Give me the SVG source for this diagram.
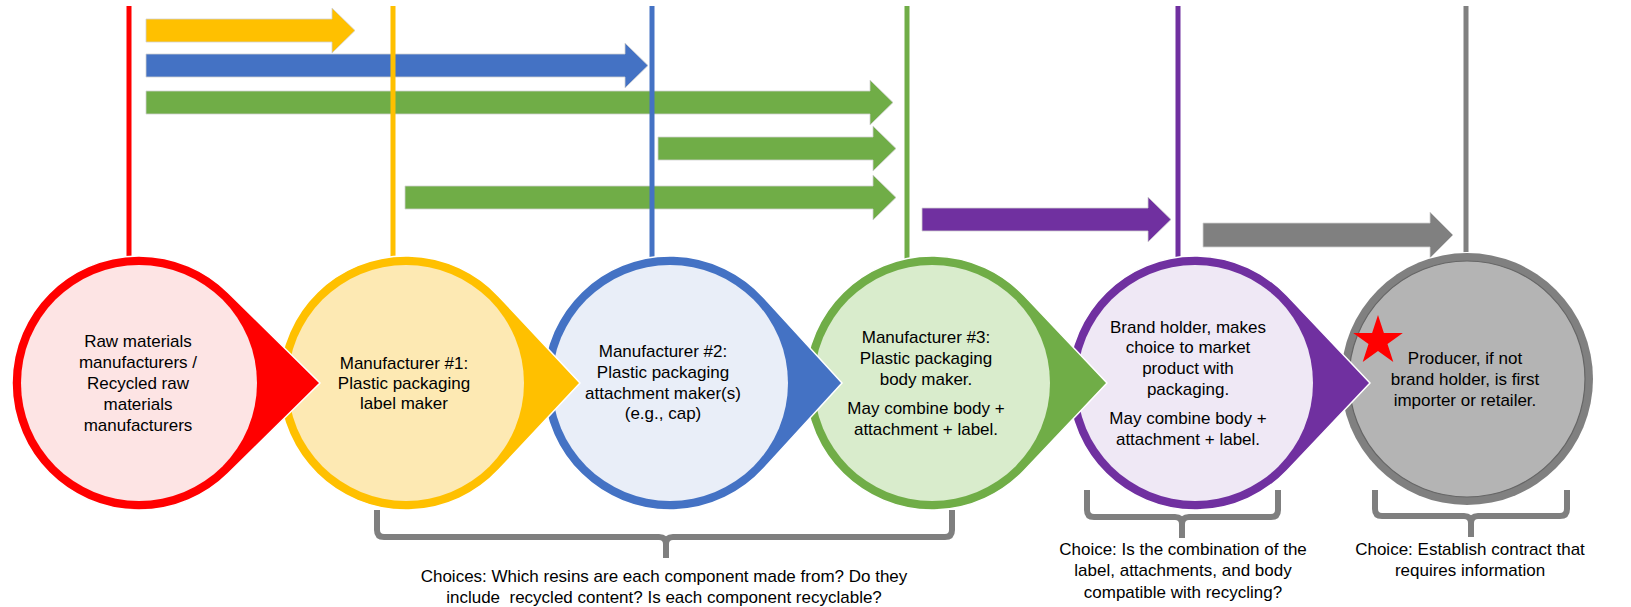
<svg xmlns="http://www.w3.org/2000/svg" width="1631" height="607" viewBox="0 0 1631 607">
<style>
  text { font-family: "Liberation Sans", Arial, sans-serif; font-size: 17px; fill: #000; text-anchor: middle; }
  .vline { stroke-width: 5; fill: none; }
  .brk { stroke: #7f7f7f; stroke-width: 6; fill: none; stroke-linejoin: round; }
  .outer { stroke: #ffffff; stroke-width: 1.5; }
  .arrow { stroke: #d0d0d0; stroke-width: 0.8; }
</style>
<rect width="1631" height="607" fill="#ffffff"/>

<!-- connectors: arrows -->
<g id="connectors">
  <polygon class="arrow" fill="#ffc000" points="146,19 332,19 332,8 355,30.5 332,53 332,42 146,42"/>
  <polygon class="arrow" fill="#4472c4" points="146,54 625,54 625,43 648,65.5 625,88 625,77 146,77"/>
  <polygon class="arrow" fill="#70ad47" points="146,91 870,91 870,80 893,102.5 870,125 870,114 146,114"/>
  <polygon class="arrow" fill="#70ad47" points="658,137 873,137 873,126 896,148.5 873,171 873,160 658,160"/>
  <polygon class="arrow" fill="#70ad47" points="405,186 873,186 873,175 896,197.5 873,220 873,209 405,209"/>
  <polygon class="arrow" fill="#7030a0" points="922,208 1148,208 1148,197 1171,219.5 1148,242 1148,231 922,231"/>
  <polygon class="arrow" fill="#808080" points="1203,223 1430,223 1430,212 1453,235 1430,258 1430,247 1203,247"/>
  <!-- vertical lines -->
  <line class="vline" stroke="#ff0000" x1="129" y1="6" x2="129" y2="260"/>
  <line class="vline" stroke="#ffc000" x1="393" y1="6" x2="393" y2="260"/>
  <line class="vline" stroke="#4472c4" x1="652" y1="6" x2="652" y2="260"/>
  <line class="vline" stroke="#70ad47" x1="907" y1="6" x2="907" y2="260"/>
  <line class="vline" stroke="#7030a0" x1="1178" y1="6" x2="1178" y2="260"/>
  <line class="vline" stroke="#808080" x1="1466" y1="6" x2="1466" y2="258"/>
  <!-- brackets -->
  <path class="brk" d="M377,510 L377,530 Q377,537 384,537 L659,537 Q666,537 666,544 L666,558 M666,544 Q666,537 673,537 L945,537 Q952,537 952,530 L952,510"/>
  <path class="brk" d="M1087,490 L1087,510 Q1087,517 1094,517 L1175,517 Q1182,517 1182,524 L1182,538 M1182,524 Q1182,517 1189,517 L1271,517 Q1278,517 1278,510 L1278,490"/>
  <path class="brk" d="M1375,490 L1375,509 Q1375,516 1382,516 L1464,516 Q1471,516 1471,523 L1471,537 M1471,523 Q1471,516 1478,516 L1560,516 Q1567,516 1567,509 L1567,490"/>
</g>

<!-- nodes, drawn right to left so tips overlap the next circle -->
<g id="node-producer">
  <circle cx="1467" cy="379" r="127" fill="#ffffff"/>
  <circle cx="1467" cy="379" r="126" fill="#808080"/>
  <circle cx="1467" cy="379" r="118" fill="#b4b4b4" stroke="#666666" stroke-width="1.2"/>
  <polygon fill="#ff0000" points="1378,315 1383.9,332.9 1402.8,332.9 1387.5,344.1 1393.3,362 1378,350.9 1362.7,362 1368.5,344.1 1353.2,332.9 1372.1,332.9"/>
  <text x="1465" y="364">Producer, if not</text>
  <text x="1465" y="385">brand holder, is first</text>
  <text x="1465" y="406">importer or retailer.</text>
</g>

<g id="node-brand">
  <path class="outer" fill="#7030a0" d="M1370,383 L1287.2,295.6 A127,127 0 1 0 1287.2,470.4 Z"/>
  <circle cx="1195" cy="383" r="118" fill="#efe8f5"/>
  <text x="1188" y="333">Brand holder, makes</text>
  <text x="1188" y="353">choice to market</text>
  <text x="1188" y="374">product with</text>
  <text x="1188" y="395">packaging.</text>
  <text x="1188" y="424">May combine body +</text>
  <text x="1188" y="445">attachment + label.</text>
</g>

<g id="node-manufacturer3">
  <path class="outer" fill="#70ad47" d="M1107,383 L1024.2,295.6 A127,127 0 1 0 1024.2,470.4 Z"/>
  <circle cx="932" cy="383" r="118" fill="#d9eccc"/>
  <text x="926" y="343">Manufacturer #3:</text>
  <text x="926" y="364">Plastic packaging</text>
  <text x="926" y="385">body maker.</text>
  <text x="926" y="414">May combine body +</text>
  <text x="926" y="435">attachment + label.</text>
</g>

<g id="node-manufacturer2">
  <path class="outer" fill="#4472c4" d="M842,383 L763.8,297.4 A127,127 0 1 0 763.8,468.6 Z"/>
  <circle cx="670" cy="383" r="118" fill="#e9eef8"/>
  <text x="663" y="357">Manufacturer #2:</text>
  <text x="663" y="378">Plastic packaging</text>
  <text x="663" y="399">attachment maker(s)</text>
  <text x="663" y="419">(e.g., cap)</text>
</g>

<g id="node-manufacturer1">
  <path class="outer" fill="#ffc000" d="M580,383 L498.7,296.2 A127,127 0 1 0 498.7,469.8 Z"/>
  <circle cx="406" cy="383" r="118" fill="#fde9b3"/>
  <text x="404" y="369">Manufacturer #1:</text>
  <text x="404" y="389">Plastic packaging</text>
  <text x="404" y="409">label maker</text>
</g>

<g id="node-raw">
  <path class="outer" fill="#ff0000" d="M320,383 L228.1,292.5 A127,127 0 1 0 228.1,473.5 Z"/>
  <circle cx="139" cy="383" r="118" fill="#fde4e4"/>
  <text x="138" y="347">Raw materials</text>
  <text x="138" y="368">manufacturers /</text>
  <text x="138" y="389">Recycled raw</text>
  <text x="138" y="410">materials</text>
  <text x="138" y="431">manufacturers</text>
</g>

<g id="labels">
  <text x="664" y="582">Choices: Which resins are each component made from? Do they</text>
  <text x="664" y="603" xml:space="preserve" style="white-space: pre">include  recycled content? Is each component recyclable?</text>
  <text x="1183" y="555">Choice: Is the combination of the</text>
  <text x="1183" y="576">label, attachments, and body</text>
  <text x="1183" y="598">compatible with recycling?</text>
  <text x="1470" y="555">Choice: Establish contract that</text>
  <text x="1470" y="576">requires information</text>
</g>
</svg>
